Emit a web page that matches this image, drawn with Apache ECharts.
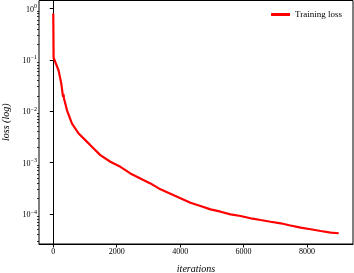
<!DOCTYPE html>
<html><head><meta charset="utf-8">
<script src="https://cdn.jsdelivr.net/npm/echarts@6/dist/echarts.min.js"></script>
<style>html,body{margin:0;padding:0;background:#fff}#c{width:354px;height:273px}</style>
</head><body><div id="c"></div>
<script>
const iterations = [0, 10, 20, 60, 167, 253, 294, 310, 320, 340, 433, 590, 800, 1010, 1273, 1484, 1800, 2116, 2431, 2747, 3063, 3379, 4010, 4326, 4642, 4958, 5274, 5589, 5905, 6221, 6290, 6300, 6320, 6537, 6853, 7168, 7440, 7450, 7470, 7484, 7800, 8116, 8431, 8747, 9000];
const trainingLoss = [0.8, 0.11, 0.105, 0.11, 0.0625, 0.0345, 0.0221, 0.019, 0.0215, 0.0175, 0.01045, 0.00577, 0.00369, 0.00274, 0.00189, 0.0014, 0.00104, 0.000828, 0.000617, 0.000493, 0.000394, 0.000302, 0.000202, 0.000166, 0.000143, 0.000123, 0.000111, 0.0000986, 0.0000914, 0.0000826, 0.0000815, 0.000087, 0.000081, 0.0000765, 0.0000708, 0.000066, 0.0000605, 0.000064, 0.0000603, 0.0000593, 0.0000542, 0.0000505, 0.0000468, 0.0000434, 0.0000422];
const xTicks = [0, 2000, 4000, 6000, 8000];
const yMajorTicks = [1e-4, 1e-3, 1e-2, 1e-1, 1];
const seriesName = 'Training loss';

const yMinorTicks = [];
for (let e = -5; e <= -1; e++) for (let m = 2; m <= 9; m++) {
  const v = m * Math.pow(10, e);
  if (v > 2.61e-5 && v < 1.43) yMinorTicks.push(v);
}
const serif = 'Liberation Serif';
const chart = echarts.init(document.getElementById('c'), null, {renderer: 'canvas'});
const expOf = v => Math.round(Math.log10(v));
chart.setOption({
  animation: false,
  grid: {left: 39, right: 1, top: 0.5, bottom: 29, show: true, borderColor: '#000', borderWidth: 1, containLabel: false, outerBoundsMode: 'none'},
  legend: {
    data: [seriesName], right: 7, top: 5, itemWidth: 19, itemHeight: 3, itemGap: 4,
    icon: 'rect', textStyle: {fontFamily: serif, fontSize: 9, color: '#000'}
  },
  xAxis: {
    type: 'value', min: -450, max: 9450,
    name: 'iterations', nameLocation: 'middle', nameGap: 20,
    nameTextStyle: {fontFamily: serif, fontStyle: 'italic', fontSize: 10, color: '#000'},
    axisLine: {show: true, lineStyle: {color: '#000', width: 1}},
    axisTick: {show: true, length: 3.5, lineStyle: {color: '#000'}, customValues: xTicks},
    axisLabel: {customValues: xTicks, formatter: v => String(v), fontFamily: serif, fontSize: 8, color: '#000', margin: 4},
    splitLine: {show: false}
  },
  yAxis: [{
    type: 'log', min: 2.61e-5, max: 1.43,
    name: 'loss (log)', nameLocation: 'middle', nameGap: 27,
    nameTextStyle: {fontFamily: serif, fontStyle: 'italic', fontSize: 10, color: '#000'},
    axisLine: {show: true, lineStyle: {color: '#000', width: 1}},
    axisTick: {show: true, length: 3.5, lineStyle: {color: '#000'}, customValues: yMajorTicks},
    axisLabel: {
      customValues: yMajorTicks, margin: 2, color: '#000',
      formatter: v => '{b|10}{s|' + (expOf(v) === 0 ? '0' : '\u2212' + (-expOf(v))) + '}',
      rich: {
        b: {fontFamily: serif, fontSize: 8, color: '#000', verticalAlign: 'bottom', lineHeight: 10},
        s: {fontFamily: serif, fontSize: 6, color: '#000', verticalAlign: 'top', lineHeight: 10, padding: [0, 0, 5, 0]}
      }
    },
    splitLine: {show: false}
  }, {
    type: 'log', min: 2.61e-5, max: 1.43, position: 'left',
    axisLine: {show: false},
    axisTick: {show: true, length: 2, lineStyle: {color: '#000', width: 0.8}, customValues: yMinorTicks},
    axisLabel: {show: false},
    splitLine: {show: false}
  }],
  series: [{
    name: seriesName, type: 'line', yAxisIndex: 0,
    data: iterations.map((x, i) => [x, trainingLoss[i]]),
    showSymbol: false, symbol: 'none',
    lineStyle: {color: '#ff0000', width: 2.2},
    itemStyle: {color: '#ff0000'}
  }]
});
</script></body></html>
